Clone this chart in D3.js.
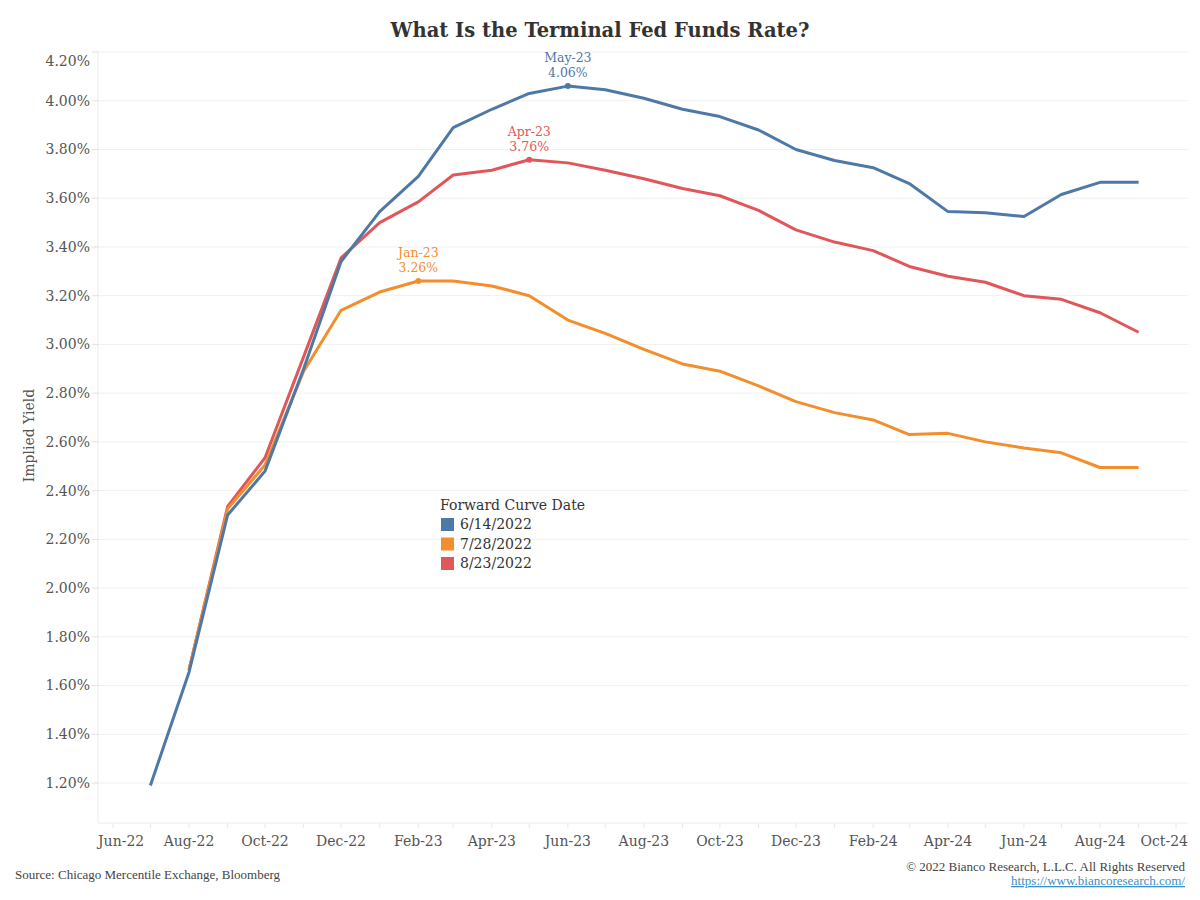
<!DOCTYPE html>
<html>
<head>
<meta charset="utf-8">
<script src="https://cdn.jsdelivr.net/npm/d3@7"></script>
<style>
  body { margin: 0; background: #fff; }
  svg { display: block; }
  text { font-family: Georgia, "DejaVu Serif", serif; }
  text.foot { font-family: "Liberation Serif", "Times New Roman", serif; }
</style>
</head>
<body>
<div id="chart"></div>
<script>
// contract months (each one plotted at the start of the following month, like the original)
const months = ["Jun-22","Jul-22","Aug-22","Sep-22","Oct-22","Nov-22","Dec-22",
  "Jan-23","Feb-23","Mar-23","Apr-23","May-23","Jun-23","Jul-23","Aug-23","Sep-23","Oct-23","Nov-23","Dec-23",
  "Jan-24","Feb-24","Mar-24","Apr-24","May-24","Jun-24","Jul-24","Aug-24"];

const curve0614 = [1.19, 1.655, 2.30, 2.48, 2.90, 3.34, 3.545,
  3.69, 3.89, 3.965, 4.03, 4.06, 4.045, 4.01, 3.965, 3.935, 3.88, 3.80, 3.755,
  3.725, 3.66, 3.545, 3.54, 3.525, 3.615, 3.665, 3.665];
const curve0728 = [null, 1.665, 2.325, 2.505, 2.89, 3.14, 3.215,
  3.26, 3.26, 3.24, 3.20, 3.10, 3.045, 2.98, 2.92, 2.89, 2.83, 2.765, 2.72,
  2.69, 2.63, 2.635, 2.60, 2.575, 2.555, 2.495, 2.495];
const curve0823 = [null, 1.665, 2.335, 2.535, 2.95, 3.355, 3.50,
  3.585, 3.695, 3.715, 3.758, 3.745, 3.715, 3.68, 3.64, 3.61, 3.55, 3.47, 3.42,
  3.385, 3.32, 3.28, 3.255, 3.20, 3.185, 3.13, 3.05];

const seriesNames = ["6/14/2022", "7/28/2022", "8/23/2022"];
const seriesColors = ["#4e79a7", "#f28e2b", "#e15759"];

const xTickLabels = ["Jun-22","Aug-22","Oct-22","Dec-22","Feb-23","Apr-23","Jun-23","Aug-23",
  "Oct-23","Dec-23","Feb-24","Apr-24","Jun-24","Aug-24","Oct-24"];
const yTicks = [1.2,1.4,1.6,1.8,2.0,2.2,2.4,2.6,2.8,3.0,3.2,3.4,3.6,3.8,4.0,4.2];

const W = 1200, H = 900;
const plot = { left: 98, right: 1188, top: 52, bottom: 823 };

const parseMonth = d3.timeParse("%b-%y");
const fmtPct = v => d3.format(".2f")(v) + "%";

const svg = d3.select("#chart").append("svg")
  .attr("width", W).attr("height", H);

const x = d3.scaleTime()
  .domain([parseMonth("Jun-22"), parseMonth("Oct-24")])
  .range([113, 1176]);
const y = d3.scaleLinear()
  .domain([1.036, 4.2])
  .range([plot.bottom, plot.top]);

// gridlines
svg.append("g").selectAll("line")
  .data(yTicks)
  .enter().append("line")
  .attr("x1", plot.left).attr("x2", plot.right)
  .attr("y1", d => y(d)).attr("y2", d => y(d))
  .attr("stroke", "#f0f0f0").attr("stroke-width", 1);

// plot frame (left + bottom)
svg.append("line")
  .attr("x1", plot.left).attr("x2", plot.left)
  .attr("y1", plot.top).attr("y2", plot.bottom)
  .attr("stroke", "#ececec");
svg.append("line")
  .attr("x1", plot.left).attr("x2", plot.right)
  .attr("y1", plot.bottom).attr("y2", plot.bottom)
  .attr("stroke", "#ececec");

// y axis
const yAxis = svg.append("g").attr("transform", `translate(${plot.left},0)`);
yAxis.selectAll("line.tk").data(yTicks).enter().append("line")
  .attr("class", "tk")
  .attr("x1", -6).attr("x2", 0)
  .attr("y1", d => y(d)).attr("y2", d => y(d))
  .attr("stroke", "#e0e0e0");
yAxis.selectAll("text").data(yTicks).enter().append("text")
  .attr("x", -8)
  .attr("y", d => Math.max(y(d), plot.top + 9))
  .attr("dy", "0.35em")
  .attr("text-anchor", "end")
  .attr("font-size", 14)
  .attr("fill", "#555")
  .text(d => fmtPct(d));

svg.append("text")
  .attr("transform", `translate(34,${(plot.top + plot.bottom) / 2 - 2}) rotate(-90)`)
  .attr("text-anchor", "middle")
  .attr("font-size", 14)
  .attr("fill", "#555")
  .text("Implied Yield");

// x axis: monthly tick marks, labels every two months
const monthTicks = d3.timeMonth.range(parseMonth("Jun-22"), d3.timeMonth.offset(parseMonth("Oct-24"), 1));
svg.append("g").selectAll("line")
  .data(monthTicks)
  .enter().append("line")
  .attr("x1", d => x(d)).attr("x2", d => x(d))
  .attr("y1", plot.bottom).attr("y2", plot.bottom + 5)
  .attr("stroke", "#e8e8e8");

svg.append("g").selectAll("text")
  .data(xTickLabels)
  .enter().append("text")
  .attr("x", (d, i) => i === 0 ? plot.left : i === xTickLabels.length - 1 ? plot.right : x(parseMonth(d)))
  .attr("y", 846)
  .attr("text-anchor", (d, i) => i === 0 ? "start" : i === xTickLabels.length - 1 ? "end" : "middle")
  .attr("font-size", 14)
  .attr("fill", "#555")
  .text(d => d);

// lines
const allSeries = [curve0614, curve0728, curve0823].map((vals, s) => ({
  name: seriesNames[s],
  color: seriesColors[s],
  points: months.map((m, i) => ({ month: m, date: d3.timeMonth.offset(parseMonth(m), 1), value: vals[i] }))
    .filter(p => p.value != null)
}));

const line = d3.line()
  .x(p => x(p.date))
  .y(p => y(p.value));

const drawOrder = [2, 1, 0];
svg.append("g").selectAll("path")
  .data(drawOrder.map(i => allSeries[i]))
  .enter().append("path")
  .attr("d", s => line(s.points))
  .attr("fill", "none")
  .attr("stroke", s => s.color)
  .attr("stroke-width", 3)
  .attr("stroke-linejoin", "round");

// peak annotations
allSeries.forEach(s => {
  const peak = s.points[d3.maxIndex(s.points, p => p.value)];
  const px = x(peak.date), py = y(peak.value);
  svg.append("circle")
    .attr("cx", px).attr("cy", py).attr("r", 3)
    .attr("fill", s.color);
  svg.append("text")
    .attr("x", px).attr("y", py - 24)
    .attr("text-anchor", "middle")
    .attr("font-size", 12.5)
    .attr("fill", s.color)
    .text(peak.month);
  svg.append("text")
    .attr("x", px).attr("y", py - 9)
    .attr("text-anchor", "middle")
    .attr("font-size", 12.5)
    .attr("fill", s.color)
    .text(fmtPct(peak.value));
});

// legend
const legend = svg.append("g").attr("transform", "translate(441,510)");
legend.append("text")
  .attr("x", -1).attr("y", 0)
  .attr("font-size", 14)
  .attr("fill", "#333")
  .text("Forward Curve Date");
const items = legend.selectAll("g.item")
  .data(allSeries)
  .enter().append("g")
  .attr("class", "item")
  .attr("transform", (d, i) => `translate(0,${8 + i * 19.5})`);
items.append("rect")
  .attr("width", 13).attr("height", 13)
  .attr("fill", d => d.color);
items.append("text")
  .attr("x", 19).attr("y", 11)
  .attr("font-size", 14)
  .attr("fill", "#333")
  .text(d => d.name);

// title
svg.append("text")
  .attr("x", 600).attr("y", 37)
  .attr("text-anchor", "middle")
  .attr("font-size", 19.5)
  .attr("font-weight", "bold")
  .attr("fill", "#333")
  .text("What Is the Terminal Fed Funds Rate?");

// footer
svg.append("text")
  .attr("class", "foot")
  .attr("x", 15).attr("y", 879)
  .attr("font-size", 13)
  .attr("fill", "#444")
  .text("Source: Chicago Mercentile Exchange, Bloomberg");
svg.append("text")
  .attr("class", "foot")
  .attr("x", 1185).attr("y", 871)
  .attr("text-anchor", "end")
  .attr("font-size", 13)
  .attr("fill", "#444")
  .text("© 2022 Bianco Research, L.L.C. All Rights Reserved");
svg.append("text")
  .attr("class", "foot")
  .attr("x", 1185).attr("y", 885)
  .attr("text-anchor", "end")
  .attr("font-size", 13)
  .attr("fill", "#3a8fc7")
  .attr("text-decoration", "underline")
  .text("https://www.biancoresearch.com/");
</script>
</body>
</html>
